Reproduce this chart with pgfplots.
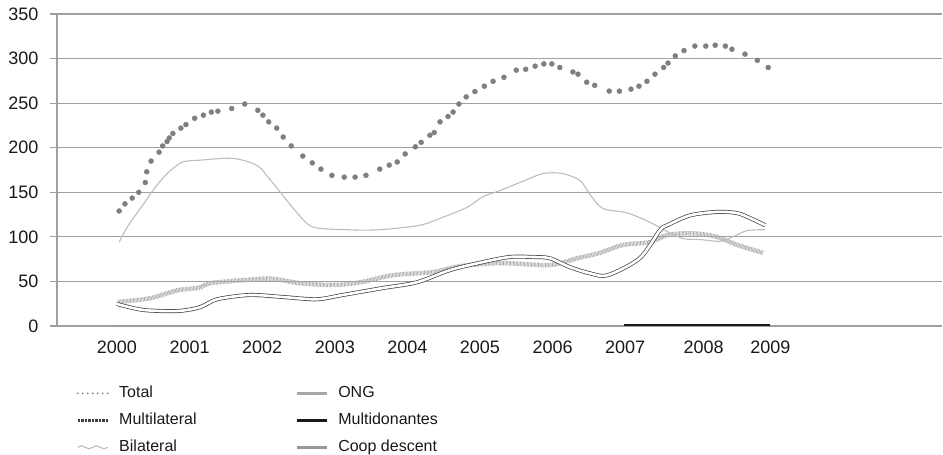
\documentclass[border=0pt]{standalone}
\usepackage{fontspec}
\setmainfont{Liberation Sans}
\usepackage{pgfplots}
\pgfplotsset{compat=1.18}

\definecolor{gridgray}{HTML}{A0A0A0}
\definecolor{totalc}{HTML}{7F7F7F}
\definecolor{bilat}{HTML}{BDBDBD}
\definecolor{ongc}{HTML}{A8A8A8}
\definecolor{multi}{HTML}{3F3F3F}
\definecolor{coopc}{HTML}{999999}

\tikzset{
  diamondchain/.style={multi, line width=0.7bp, double=white, double distance=2.6bp},
  wavy/.style={bilat, line width=1.1bp},
  hatched/.style={ongc, line width=4.5bp, dash pattern=on 0.7bp off 0.7bp},
}

% x = years after 2000
\begin{document}
\begin{tikzpicture}
\begin{axis}[
  at={(57bp,129bp)}, anchor=south west,
  scale only axis, width=885bp, height=312bp,
  xmin=-0.826, xmax=11.364, ymin=0, ymax=350,
  axis lines*=left,
  axis line style={gridgray, line width=1.5bp},
  ytick={0,50,...,350},
  xtick={0,1,2,3,4,5,6,7,8.08,9},
  xticklabels={2000,2001,2002,2003,2004,2005,2006,2007,2008,2009},
  ymajorgrids, grid style={gridgray, line width=1.2bp},
  tick align=outside, major tick length=7bp,
  xtick style={draw=none},
  ytick style={gridgray, line width=1.2bp},
  ticklabel style={font=\fontsize{18bp}{20bp}\selectfont, text=black!90},
  yticklabel style={xshift=-8bp},
  xticklabel style={yshift=-4bp},
  /pgf/number format/assume math mode=true,
  legend columns=2,
  legend cell align=left,
  legend image code/.code={\draw[#1] (0bp,0bp) -- (30bp,0bp);},
  legend style={draw=none, fill=none, at={(0.0215,-0.191)}, anchor=north west,
    inner sep=0pt, row sep=12bp,
    nodes={inner sep=0pt, text height=12bp, text depth=3bp,
      font=\fontsize{16bp}{18bp}\selectfont, text=black!90},
    /tikz/every odd column/.append style={column sep=10bp},
    /tikz/every even column/.append style={column sep=98.7bp}},
]
% Coop descent
\addplot[forget plot, coopc, line width=2bp] coordinates {(0,0) (9,0)};
% Multidonantes
\addplot[forget plot, black!90, line width=3bp] coordinates {(6.98,1) (9.0,1)};
% ONG
\addplot[forget plot, hatched, smooth] coordinates {
(0.01,27) (0.45,31) (0.83,40) (1.14,43) (1.28,48) (1.83,52)
(2.15,53) (2.52,48) (2.98,46) (3.35,49) (3.80,57) (4.35,60.5)
(4.72,67) (5.28,70.6) (5.96,68.4) (6.34,76) (6.65,82) (6.97,91)
(7.34,94) (7.58,102) (7.93,104) (8.26,100) (8.54,91) (8.90,82)};
% Bilateral
\addplot[forget plot, wavy, smooth] coordinates {
(0.03,94) (0.15,112) (0.35,135) (0.55,158) (0.73,174) (0.91,184)
(1.14,186) (1.60,188) (1.93,180) (2.10,165) (2.30,145) (2.48,127)
(2.70,111) (3.17,108) (3.62,108) (4.17,113) (4.49,122) (4.82,133)
(5.04,145) (5.28,152) (5.55,161) (5.87,171) (6.14,171) (6.38,163)
(6.52,147) (6.69,132) (7.02,127) (7.30,118) (7.58,106) (7.80,98)
(8.03,97) (8.31,95) (8.48,100) (8.68,107) (8.93,108)};
% Multilateral
\addplot[forget plot, diamondchain, smooth] coordinates {
(0.00,24.7) (0.36,18) (0.83,16.8) (1.14,21) (1.38,30) (1.83,34.8)
(2.29,32.5) (2.75,30) (3.11,34.8) (3.66,42.6) (4.13,49) (4.59,62.8)
(5.04,71.7) (5.41,77.4) (5.73,77.4) (5.96,76) (6.24,66) (6.52,59)
(6.76,57) (7.20,76) (7.48,107.6) (7.58,113) (7.89,124) (8.26,128)
(8.54,126.7) (8.72,121) (8.93,113)};
% Total
\addplot[forget plot, only marks, mark=*, mark size=2.5bp, totalc,
  mark options={draw=totalc, fill=totalc}] coordinates {
(0.03,129) (0.11,137) (0.21,143.5) (0.30,150) (0.39,161) (0.41,173)
(0.47,185) (0.58,195) (0.63,202) (0.69,207) (0.72,211) (0.77,216)
(0.88,222) (0.95,226) (1.07,233) (1.19,236.5) (1.30,240) (1.39,241)
(1.58,244) (1.76,249) (1.94,242) (2.01,236.5) (2.09,229) (2.20,222)
(2.29,212) (2.40,202) (2.56,190.6) (2.69,183) (2.81,176) (2.96,169)
(3.13,167) (3.28,167) (3.43,169) (3.62,176) (3.75,180.5) (3.86,184)
(3.97,193) (4.11,201) (4.19,206) (4.31,214) (4.37,217) (4.45,229)
(4.56,235) (4.63,240) (4.71,249) (4.81,257) (4.93,263) (5.06,269)
(5.18,274.5) (5.33,279) (5.50,287) (5.63,288) (5.76,291.5) (5.88,294)
(5.99,294) (6.10,290) (6.28,285) (6.35,282.5) (6.47,273.5) (6.58,270)
(6.78,263.5) (6.92,263.5) (7.08,265.7) (7.19,269) (7.30,274.5) (7.41,282.5)
(7.53,290) (7.59,295) (7.69,303) (7.81,309) (7.96,314) (8.11,314)
(8.24,315) (8.38,314) (8.47,310.5) (8.65,305) (8.82,298) (8.97,290)};

\addlegendimage{totalc, line width=2bp, line cap=round, dash pattern=on 0bp off 5bp}
\addlegendentry{Total}
\addlegendimage{ongc, line width=3bp}
\addlegendentry{ONG}
\addlegendimage{multi, line width=3bp, dash pattern=on 0.7bp off 0.7bp}
\addlegendentry{Multilateral}
\addlegendimage{black!90, line width=3bp}
\addlegendentry{Multidonantes}
\addlegendimage{legend image code/.code={\draw[bilat, line width=1.1bp]
  (0bp,0bp) sin (3.75bp,1.5bp) cos (7.5bp,0bp) sin (11.25bp,-1.5bp) cos (15bp,0bp)
  sin (18.75bp,1.5bp) cos (22.5bp,0bp) sin (26.25bp,-1.5bp) cos (30bp,0bp);}}
\addlegendentry{Bilateral}
\addlegendimage{coopc, line width=3bp}
\addlegendentry{Coop descent}
\end{axis}
\pgfresetboundingbox
\path[use as bounding box] (0,0) rectangle (943bp,455bp);
\end{tikzpicture}
\end{document}
